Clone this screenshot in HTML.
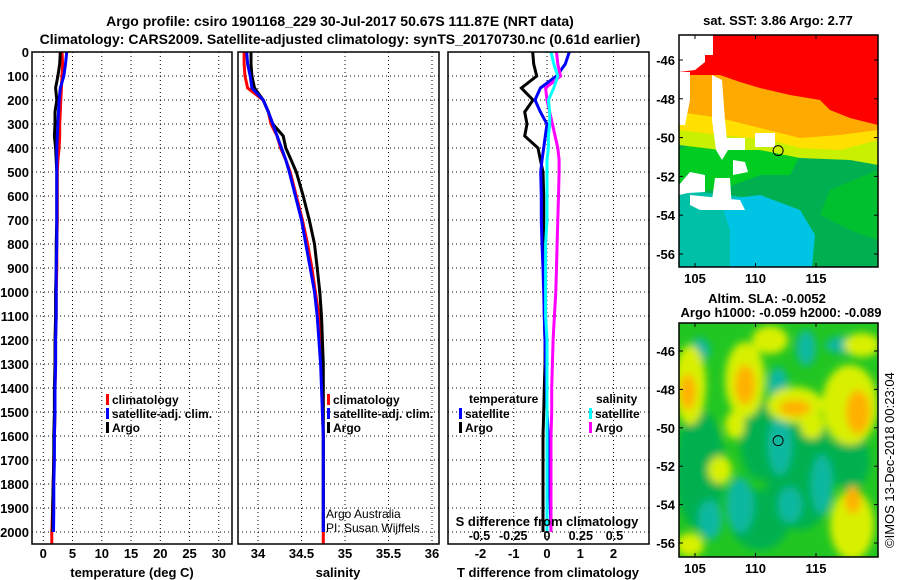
<!DOCTYPE html>
<html><head><meta charset="utf-8"><style>
html,body{margin:0;padding:0;background:#fff;}
svg{display:block;font-family:"Liberation Sans",Arial,sans-serif;}
.b{font-weight:bold;}
</style></head><body>
<svg id="c" width="900" height="580" viewBox="0 0 900 580" xmlns="http://www.w3.org/2000/svg">
<defs>
<filter id="blur" x="-50%" y="-50%" width="200%" height="200%"><feGaussianBlur stdDeviation="4"/></filter>
<clipPath id="clipTop"><rect x="679" y="35" width="199" height="232"/></clipPath>
<clipPath id="clipBot"><rect x="679" y="323" width="199" height="234"/></clipPath>
</defs>
<text x="340" y="26" text-anchor="middle" class="b" font-size="14">Argo profile: csiro 1901168_229 30-Jul-2017 50.67S 111.87E (NRT data)</text>
<text x="340" y="44" text-anchor="middle" class="b" font-size="14">Climatology: CARS2009. Satellite-adjusted climatology: synTS_20170730.nc (0.61d earlier)</text>
<g id="panels"></g>
<g id="maps"></g>
</svg>
<script>
// ---- data ----
const depths = [0,50,100,150,200,250,300,350,400,450,500,600,700,800,900,1000,1100,1200,1300,1400,1500,1600,1700,1800,1900,2000];
const tempClim = [3.2,3.3,3.2,3.1,3.0,2.9,2.8,2.8,2.7,2.5,2.4,2.4,2.4,2.3,2.3,2.2,2.2,2.1,2.1,2.0,2.0,1.9,1.8,1.7,1.6,1.45];
const tempSat  = [4.0,3.8,3.5,2.9,2.7,2.6,2.5,2.4,2.3,2.3,2.3,2.3,2.3,2.3,2.2,2.2,2.2,2.1,2.1,2.0,2.0,1.9,1.9,1.8,1.8,1.75];
const tempArgo = [2.9,2.8,2.5,2.1,2.3,2.0,2.0,1.9,2.1,2.2,2.3,2.3,2.3,2.2,2.2,2.1,2.1,2.0,2.0,1.9,1.9,1.8,1.8,1.7,1.6,1.6];
const salClim = [33.84,33.84,33.85,33.88,34.06,34.12,34.15,34.22,34.26,34.32,34.37,34.44,34.51,34.57,34.62,34.66,34.70,34.72,34.73,34.74,34.74,34.75,34.75,34.75,34.75,34.75];
const salSat  = [33.87,33.88,33.91,33.93,34.06,34.12,34.17,34.22,34.27,34.32,34.36,34.43,34.50,34.55,34.60,34.65,34.68,34.70,34.72,34.73,34.74,34.75,34.75,34.75,34.75,34.75];
const salArgo = [33.92,33.92,33.93,33.96,34.06,34.12,34.17,34.29,34.32,34.38,34.44,34.52,34.59,34.65,34.68,34.71,34.73,34.74,34.75,34.75,34.75,34.75,34.75,34.75,34.75,34.75];
const dTSat  = [0.67,0.55,0.29,-0.2,-0.36,-0.2,0.0,-0.05,-0.1,-0.15,-0.19,-0.17,-0.17,-0.15,-0.12,-0.1,-0.08,-0.06,-0.04,-0.02,0.0,0.04,0.06,0.08,0.1,0.12];
const dTArgo = [-0.43,-0.4,-0.31,-0.77,-0.42,-0.67,-0.6,-0.67,-0.27,-0.2,-0.12,-0.1,-0.1,-0.1,-0.08,-0.08,-0.08,-0.06,-0.06,-0.08,-0.1,-0.12,-0.12,-0.12,-0.12,-0.12];
const dSSat  = [0.03,0.05,0.08,0.05,0.01,0.02,0.02,0.01,0.01,0.0,0.0,0.0,0.0,-0.01,-0.01,-0.01,-0.01,0.0,0.0,0.0,0.0,0.0,0.0,0.0,0.0,0.0];
const dSArgo = [0.07,0.08,0.1,-0.01,0.0,0.02,0.04,0.06,0.08,0.09,0.09,0.085,0.08,0.075,0.07,0.065,0.055,0.045,0.04,0.035,0.035,0.03,0.03,0.03,0.03,0.03];
const depthTicks = [0,100,200,300,400,500,600,700,800,900,1000,1100,1200,1300,1400,1500,1600,1700,1800,1900,2000];
const tempTicks = [0,5,10,15,20,25,30];
const salTicks = [34,34.5,35,35.5,36];
const salTickLabels = ["34","34.5","35","35.5","36"];
const dTTicks = [-2,-1,0,1,2];
const dSTicks = [-0.5,-0.25,0,0.25,0.5];
const dSTickLabels = ["-0.5","-0.25","0","0.25","0.5"];
const latTicks = [-46,-48,-50,-52,-54,-56];
const lonTicks = [105,110,115];
const floatLon = 111.87, floatLat = -50.67;

// ---- scales ----
const yD = d => 52 + d*0.24;
const xT = t => 43.3 + t*5.85;
const xS = s => 258 + (s-34)*87;
const xDT = v => 547 + v*33.25;
const xDS = v => 547 + v*135;
const lonX = l => 695 + (l-105)*12.1;
const latYTop = l => 60 + (-46-l)*19.4;
const latYBot = l => 351 + (-46-l)*19.2;

const NS='http://www.w3.org/2000/svg';
function mk(tag, attrs, parent, txt){
  const e=document.createElementNS(NS,tag);
  for(const k in attrs) e.setAttribute(k,attrs[k]);
  if(txt!==undefined) e.textContent=txt;
  parent.appendChild(e); return e;
}
const P=document.getElementById('panels');

function panel(name,x0,x1,xs,ticks,labels,lblY){
  const g=mk('g',{},P);
  
  
  depthTicks.forEach(d=>{ mk('line',{x1:x0,x2:x1,y1:yD(d),y2:yD(d),stroke:'#000','stroke-width':1,'stroke-dasharray':'1,3'},g); });
  ticks.forEach(t=>{ mk('line',{x1:xs(t),x2:xs(t),y1:52,y2:544,stroke:'#000','stroke-width':1,'stroke-dasharray':'1,3'},g); });
  if(lblY) ticks.forEach((t,i)=>{ mk('text',{x:xs(t),y:lblY,'text-anchor':'middle','font-size':13,class:'b'},g,labels[i]); });
  return g;
}
function line(g,name,xs,vals,color,ext){
  let pts=[];
  vals.forEach((v,i)=>{ pts.push(xs(v).toFixed(1)+','+yD(depths[i]).toFixed(1)); });
  if(ext) pts.push(xs(vals[vals.length-1]).toFixed(1)+','+yD(2050).toFixed(1));
  const e=mk('polyline',{points:pts.join(' '),fill:'none',stroke:color,'stroke-width':3,'stroke-linejoin':'miter'},g);
  
  
}
function legendEntry(g,x,y,color,label,name){
  mk('rect',{x:x,y:y-6,width:3,height:11,fill:color},g);
  const t=mk('text',{x:x+6,y:y+4,'font-size':12,class:'b'},g,label);
  
  
}

// Panel 1 temperature
const g1=panel('temperature-panel',32,232,xT,tempTicks,tempTicks.map(String),558);
line(g1,'temp-climatology-line',xT,tempClim,'#f00',true);
line(g1,'temp-argo-line',xT,tempArgo,'#000',false);
line(g1,'temp-satellite-line',xT,tempSat,'#00f',false);
mk('rect',{x:32,y:52,width:200,height:492,fill:'none',stroke:'#000','stroke-width':1.5},g1);
depthTicks.forEach(d=>{ mk('text',{x:29,y:yD(d)+5,'text-anchor':'end','font-size':13,class:'b'},g1,String(d)); });
mk('text',{x:132,y:577,'text-anchor':'middle','font-size':13,class:'b'},g1,'temperature (deg C)');
legendEntry(g1,106,400,'#f00','climatology','legend-climatology');
legendEntry(g1,106,414,'#00f','satellite-adj. clim.','legend-satellite');
legendEntry(g1,106,428,'#000','Argo','legend-argo');

// Panel 2 salinity
const g2=panel('salinity-panel',238,439,xS,salTicks,salTickLabels,558);
line(g2,'sal-climatology-line',xS,salClim,'#f00',true);
line(g2,'sal-argo-line',xS,salArgo,'#000',false);
line(g2,'sal-satellite-line',xS,salSat,'#00f',false);
mk('rect',{x:238,y:52,width:201,height:492,fill:'none',stroke:'#000','stroke-width':1.5},g2);
mk('text',{x:338,y:577,'text-anchor':'middle','font-size':13,class:'b'},g2,'salinity');
legendEntry(g2,327,400,'#f00','climatology','legend-sal-climatology');
legendEntry(g2,327,414,'#00f','satellite-adj. clim.','legend-sal-satellite');
legendEntry(g2,327,428,'#000','Argo','legend-sal-argo');
mk('text',{x:326,y:518,'font-size':12},g2,'Argo Australia');
mk('text',{x:326,y:532,'font-size':12},g2,'PI: Susan Wijffels');

// Panel 3 differences
const g3=panel('difference-panel',448,649,xDT,dTTicks,dTTicks.map(String),558);
line(g3,'dT-argo-line',xDT,dTArgo,'#000',false);
line(g3,'dT-satellite-line',xDT,dTSat,'#00f',false);
line(g3,'dS-argo-line',xDS,dSArgo,'#f0f',false);
line(g3,'dS-satellite-line',xDS,dSSat,'#0ff',false);
mk('rect',{x:448,y:52,width:201,height:492,fill:'none',stroke:'#000','stroke-width':1.5},g3);
mk('text',{x:548,y:577,'text-anchor':'middle','font-size':13,class:'b'},g3,'T difference from climatology');
mk('text',{x:547,y:526,'text-anchor':'middle','font-size':13,class:'b'},g3,'S difference from climatology');
dSTicks.forEach((t,i)=>{ mk('text',{x:xDS(t),y:540,'text-anchor':'middle','font-size':12.5,class:'b'},g3,dSTickLabels[i]); });
mk('text',{x:469,y:403,'font-size':12,class:'b'},g3,'temperature');
legendEntry(g3,459,414,'#00f','satellite','legend-dT-satellite');
legendEntry(g3,459,428,'#000','Argo','legend-dT-argo');
mk('text',{x:596,y:403,'font-size':12,class:'b'},g3,'salinity');
legendEntry(g3,589,414,'#0ff','satellite','legend-dS-satellite');
legendEntry(g3,589,428,'#f0f','Argo','legend-dS-argo');

// ---- maps ----
const M=document.getElementById('maps');
function poly(g,pts,fill){ mk('polygon',{points:pts,fill:fill},g); }
function mapAxes(g,x0,y0,x1,y1,latY){
  mk('rect',{x:x0,y:y0,width:x1-x0,height:y1-y0,fill:'none',stroke:'#000','stroke-width':1.5},g);
  latTicks.forEach(l=>{
    mk('line',{x1:x0,x2:x0+4,y1:latY(l),y2:latY(l),stroke:'#000'},g);
    mk('line',{x1:x1-4,x2:x1,y1:latY(l),y2:latY(l),stroke:'#000'},g);
    mk('text',{x:675,y:latY(l)+5,'text-anchor':'end','font-size':13,class:'b'},g,String(l));
  });
  lonTicks.forEach(l=>{
    mk('line',{x1:lonX(l),x2:lonX(l),y1:y1-4,y2:y1,stroke:'#000'},g);
    mk('line',{x1:lonX(l),x2:lonX(l),y1:y0,y2:y0+4,stroke:'#000'},g);
  });
}
// top SST map
const mt=mk('g',{'clip-path':'url(#clipTop)'},M);


mk('rect',{x:679,y:35,width:199,height:232,fill:'#00b050'},mt);
poly(mt,'679,190 730,195 760,200 790,230 810,267 679,267','#00c0a8');
poly(mt,'720,200 760,195 800,210 815,235 812,267 730,267 730,230','#00c4e4');
poly(mt,'679,150 700,140 740,140 780,145 800,155 790,175 760,175 720,190 679,190','#00cc22');
poly(mt,'830,190 878,170 878,240 850,230 820,215','#00c030');
poly(mt,'679,110 720,110 760,120 800,135 840,135 878,130 878,165 850,160 800,158 760,150 720,150 679,145','#c8f000');
poly(mt,'679,100 760,100 800,110 840,115 878,112 878,140 840,150 800,148 770,140 720,135 679,130','#ffe000');
poly(mt,'679,72 730,72 760,85 800,92 840,95 878,95 878,130 840,135 800,138 760,128 720,118 679,112','#ffaa00');
poly(mt,'679,35 878,35 878,125 850,118 830,110 820,100 790,95 760,88 740,82 720,75 679,75','#ff0000');
// data gaps (white)
poly(mt,'679,35 705,35 705,62 695,70 679,72','#fff');
mk('rect',{x:705,y:35,width:8,height:20,fill:'#fff'},mt);
poly(mt,'679,72 690,72 690,100 685,125 679,125','#fff');
poly(mt,'712,75 722,80 725,120 728,150 722,160 716,150 712,120','#fff');
mk('rect',{x:727,y:138,width:18,height:12,fill:'#fff'},mt);
mk('rect',{x:755,y:133,width:20,height:14,fill:'#fff'},mt);
poly(mt,'733,160 745,162 748,172 733,175','#fff');
poly(mt,'679,185 690,172 705,175 705,192 688,193 679,195','#fff');
poly(mt,'715,178 730,178 732,210 720,210 712,200','#fff');
poly(mt,'690,195 740,200 745,210 732,210 700,210 690,205','#fff');
mk('circle',{cx:lonX(floatLon),cy:latYTop(floatLat),r:5,fill:'none',stroke:'#000','stroke-width':1},M);
mapAxes(M,679,35,878,267,latYTop);
mk('text',{x:778,y:25,'text-anchor':'middle','font-size':13,class:'b'},M,'sat. SST: 3.86 Argo: 2.77');
lonTicks.forEach(l=>{ mk('text',{x:lonX(l),y:283,'text-anchor':'middle','font-size':13,class:'b'},M,String(l)); });

// bottom SLA map
const mb=mk('g',{'clip-path':'url(#clipBot)'},M);


mk('rect',{x:679,y:323,width:199,height:234,fill:'#22c622'},mb);
const bl=mk('g',{filter:'url(#blur)'},mb);
[
 [700,470,25,60,'#00b050'],[800,470,35,60,'#00b050'],[760,520,30,30,'#00b050'],[850,460,20,30,'#00b050'],[760,440,20,40,'#00b050'],
 [740,505,14,28,'#10b8a0'],[822,485,11,30,'#10b8a0'],[780,445,12,30,'#10b8a0'],[778,385,10,18,'#10b8a0'],[806,348,10,18,'#10b8a0'],[845,345,20,9,'#10b8a0'],[790,505,12,18,'#10b8a0'],[710,520,12,20,'#10b8a0'],[700,350,10,12,'#10b8a0'],
 [690,385,16,40,'#d8f000'],[745,380,20,38,'#d8f000'],[795,405,28,18,'#d8f000'],[850,405,28,40,'#d8f000'],[720,470,12,14,'#d8f000'],[852,525,22,35,'#d8f000'],[812,425,12,14,'#d8f000'],[770,340,18,14,'#d8f000'],[862,345,18,12,'#d8f000'],[690,545,14,12,'#d8f000'],[735,425,10,14,'#d8f000'],
 [688,392,8,18,'#ffb000'],[745,385,10,20,'#ffb000'],[795,408,16,8,'#ffb000'],[858,412,12,22,'#ffb000'],[853,500,8,14,'#ffb000']
].forEach(b=>{ mk('ellipse',{cx:b[0],cy:b[1],rx:b[2],ry:b[3],fill:b[4]},bl); });
mk('circle',{cx:lonX(floatLon),cy:latYBot(floatLat),r:5,fill:'none',stroke:'#000','stroke-width':1},M);
mapAxes(M,679,323,878,557,latYBot);
mk('text',{x:767,y:303,'text-anchor':'middle','font-size':13,class:'b'},M,'Altim. SLA: -0.0052');
mk('text',{x:781,y:317,'text-anchor':'middle','font-size':13,class:'b'},M,'Argo h1000: -0.059 h2000: -0.089');
lonTicks.forEach(l=>{ mk('text',{x:lonX(l),y:573,'text-anchor':'middle','font-size':13,class:'b'},M,String(l)); });
mk('text',{x:0,y:0,'font-size':13,transform:'translate(894,548) rotate(-90)'},M,'©IMOS 13-Dec-2018 00:23:04');
</script>
</body></html>
